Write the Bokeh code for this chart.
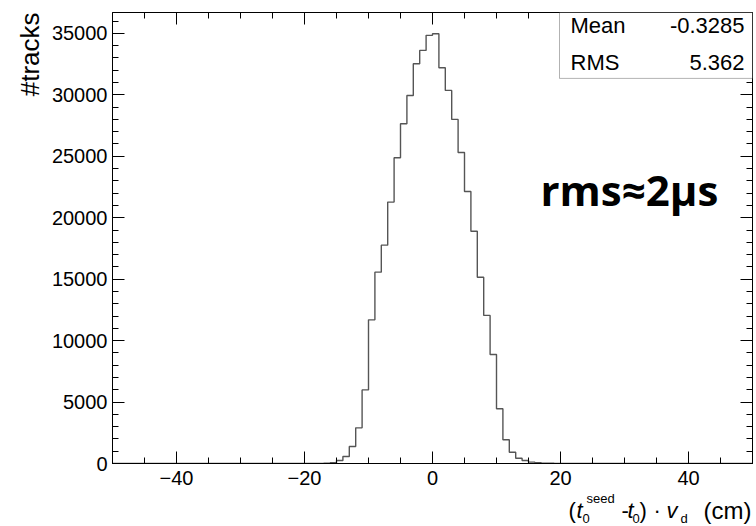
import math
from bokeh.plotting import figure
from bokeh.models import (Range1d, SingleIntervalTicker, LinearAxis, Label, Title,
                          BoxAnnotation, CustomJSTickFormatter)
from bokeh.layouts import column
from bokeh.embed import file_html
from bokeh.resources import INLINE

# ---- data ----
bin_low = -50
bin_width = 1
# counts per 1-cm bin, keyed by the bin's lower edge
edges_nonzero = [-17, -16, -15, -14, -13, -12, -11, -10, -9, -8, -7, -6, -5, -4, -3, -2, -1,
                 0, 1, 2, 3, 4, 5, 6, 7, 8, 9, 10, 11, 12, 13, 14, 15, 16, 17, 18]
counts_nonzero = [20, 60, 240, 570, 1380, 2900, 5990, 11690, 15570, 17770, 21270, 24880, 27650,
                  29950, 32530, 33615, 34840,
                  34970, 32200, 30360, 28000, 25310, 22140, 18900, 15160, 12050, 8870, 4450,
                  1930, 920, 430, 240, 110, 60, 30, 15]
n_bins = 100
stat_names = ["Mean", "RMS"]
stat_values = ["-0.3285", "5.362"]
x_ticks_major = 20
y_ticks_major = 5000

lookup = dict(zip(edges_nonzero, counts_nonzero))
edges = [bin_low + i * bin_width for i in range(n_bins + 1)]
counts = [lookup.get(e, 0) for e in edges[:-1]]
step_y = counts + [counts[-1]]

FONT = "Liberation Sans"
BASE_SHIFT = 0.42  # Bokeh's alphabetic anchor sits this fraction of the size above the glyph baseline


def fsz(n):
    return f"{n}px"


p = figure(width=756, height=492, output_backend="svg", toolbar_location=None,
           x_range=Range1d(-50, 50), y_range=Range1d(0, 36700),
           min_border_left=112, min_border_right=4, min_border_top=12, min_border_bottom=29,
           background_fill_color="white", border_fill_color="white")
p.grid.visible = False
p.outline_line_color = "black"
p.outline_line_width = 1

p.step(edges, step_y, mode="after", line_color="#555555", line_width=1.4)

# main axes
for ax in (p.xaxis[0], p.yaxis[0]):
    ax.major_tick_out = 0
    ax.minor_tick_out = 0
    ax.major_tick_in = 12
    ax.minor_tick_in = 6
    ax.axis_line_color = "black"
    ax.major_tick_line_color = "black"
    ax.minor_tick_line_color = "black"
    ax.major_label_text_font = FONT
    ax.major_label_text_font_size = "20px"
    ax.major_label_text_color = "black"
p.xaxis[0].ticker = SingleIntervalTicker(interval=x_ticks_major, num_minor_ticks=4)
p.yaxis[0].ticker = SingleIntervalTicker(interval=y_ticks_major, num_minor_ticks=5)
p.xaxis[0].major_label_standoff = 7
p.yaxis[0].major_label_standoff = 5

# mirrored ticks on top and right
blank = CustomJSTickFormatter(code="return ''")
top = LinearAxis(ticker=SingleIntervalTicker(interval=x_ticks_major, num_minor_ticks=4),
                 formatter=blank, major_label_text_font_size="1px", major_label_standoff=0,
                 major_tick_out=0, minor_tick_out=0, major_tick_in=12, minor_tick_in=6,
                 axis_line_color=None)
right = LinearAxis(ticker=SingleIntervalTicker(interval=y_ticks_major, num_minor_ticks=5),
                   formatter=blank, major_label_text_font_size="1px", major_label_standoff=0,
                   major_tick_out=0, minor_tick_out=0, major_tick_in=12, minor_tick_in=6,
                   axis_line_color=None)
p.add_layout(top, "above")
p.add_layout(right, "right")

# y-axis title, placed at the top end of the axis
p.add_layout(Title(text="#tracks", align="right", offset=0, standoff=8,
                   text_font=FONT, text_font_size="26px", text_font_style="normal",
                   text_color="black"), "left")


# helpers: page pixel -> data (for annotation placement inside the frame)
def dx(px):
    return (px - 432) / 6.4


def dy(py):
    return (463 - py) / (430 / 35000)


# statistics box
p.add_layout(BoxAnnotation(left=dx(559), right=dx(752), top=dy(12), bottom=dy(78),
                           fill_color="white", fill_alpha=1.0, line_color="black",
                           line_width=1, level="annotation"))
stat_size = 22
for i, (nm, val) in enumerate(zip(stat_names, stat_values)):
    yb = dy(34 + 37 * i - BASE_SHIFT * stat_size)
    p.add_layout(Label(x=dx(570), y=yb, text=nm, text_align="left", text_baseline="alphabetic",
                       text_font=FONT, text_font_size=fsz(stat_size), text_color="black"))
    p.add_layout(Label(x=dx(744), y=yb, text=val, text_align="right",
                       text_baseline="alphabetic", text_font=FONT,
                       text_font_size=fsz(stat_size), text_color="black"))

# annotation text
rms_size = 42
p.add_layout(Label(x=dx(540), y=dy(207 - BASE_SHIFT * rms_size), text="rms\u22482\u03bcs",
                   text_align="left", text_baseline="alphabetic", text_font="Open Sans",
                   text_font_style="bold", text_font_size=fsz(rms_size), text_color="black"))

# ---- strip below holding the x-axis title ----
# its frame is aligned with the main frame (page x 112..752), so map page pixels directly
q = figure(width=756, height=34, output_backend="svg", toolbar_location=None,
           x_range=Range1d(112, 752), y_range=Range1d(526, 492),
           x_axis_location=None, y_axis_location=None,
           min_border_left=0, min_border_right=0, min_border_top=0, min_border_bottom=0,
           background_fill_color="white", border_fill_color="white")
q.grid.visible = False
q.outline_line_color = None

main = 22
small = 13
base = 519
sup = 503
sub = 523
pieces = [
    ("(", 568, base, main, "normal"),
    ("t", 576, base, main, "italic"),
    ("0", 582, sub, small, "normal"),
    ("seed", 586, sup, small, "normal"),
    ("-", 621, base, main, "normal"),
    ("t", 627, base, main, "italic"),
    ("0", 632, sub, small, "normal"),
    (")", 639, base, main, "normal"),
    ("\u00b7", 653, base, main, "normal"),
    ("v", 666, base, main, "italic"),
    ("d", 680, sub, small, "normal"),
]
for txt, px, y, fs, style in pieces:
    q.add_layout(Label(x=px, y=y - BASE_SHIFT * fs, text=txt, text_align="left",
                       text_baseline="alphabetic", text_font=FONT, text_font_size=fsz(fs),
                       text_font_style=style, text_color="black"))
q.add_layout(Label(x=751, y=base - BASE_SHIFT * main, text="(cm)", text_align="right",
                   text_baseline="alphabetic", text_font=FONT, text_font_size=fsz(main + 2),
                   text_color="black"))

layout = column(p, q, spacing=0)
open("out.html", "w").write(file_html(layout, INLINE))
